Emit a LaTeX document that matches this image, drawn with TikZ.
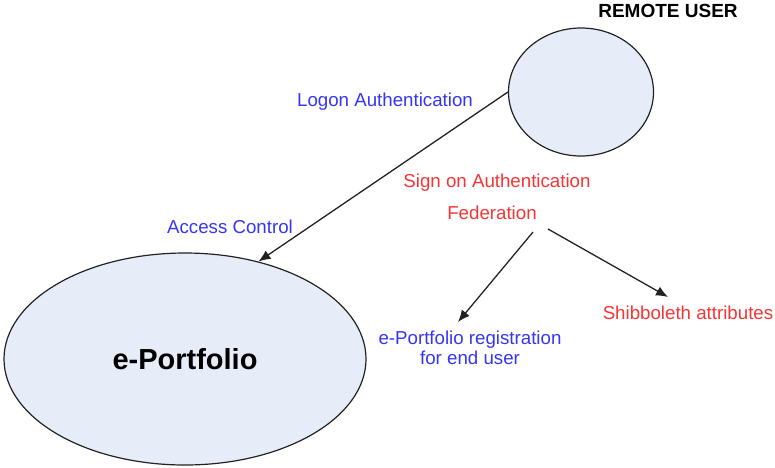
\documentclass[tikz,border=0pt]{standalone}
\usepackage{fontspec}
\setmainfont{Liberation Sans}
\usetikzlibrary{shapes.geometric,arrows.meta}
\definecolor{ellfill}{HTML}{E6EDF8}
\definecolor{lblblue}{HTML}{3535F5}
\definecolor{lblred}{HTML}{F53535}
\definecolor{linegray}{HTML}{222222}
\tikzset{
  bubble/.style={ellipse, draw=linegray, line width=1.2pt, fill=ellfill, inner sep=0pt},
  lbl/.style={inner sep=0pt, font=\fontsize{18.7}{22}\selectfont},
  bluelbl/.style={lbl, text=lblblue},
  redlbl/.style={lbl, text=lblred},
  conn/.style={draw=linegray, line width=1.3pt, -{Latex[length=12pt,width=10pt]}}
}
\begin{document}
\begin{tikzpicture}[x=1pt,y=-1pt]
\useasboundingbox (0,0) rectangle (775,467);
\node[bubble, minimum width=145pt, minimum height=128pt] (ru) at (581,92) {};
\node[bubble, minimum width=362pt, minimum height=212pt,
      font=\bfseries\fontsize{29}{34}\selectfont] (ep) at (185,359) {e-Portfolio};
\node[inner sep=0pt, font=\bfseries\fontsize{19}{22}\selectfont] (rutitle) at (668,11) {REMOTE USER};
\node[bluelbl] (logon) at (385,102) {Logon Authentication};
\node[bluelbl] (access) at (230,227) {Access Control};
\node[redlbl] (sign) at (497,183) {Sign on Authentication};
\node[redlbl] (fed) at (492,213) {Federation};
\node[redlbl] (shib) at (688,313) {Shibboleth attributes};
\node[bluelbl, align=center, font=\fontsize{18.7}{20}\selectfont] (reg) at (470,348) {e-Portfolio registration\\for end user};
\coordinate (f1) at (533,232);
\coordinate (f2) at (548,229);
\coordinate (t1) at (458,322);
\coordinate (t2) at (668,297);
\draw[conn] (ru.west) -- (ep.53);
\draw[conn] (f1) -- (t1);
\draw[conn] (f2) -- (t2);
\end{tikzpicture}
\end{document}
